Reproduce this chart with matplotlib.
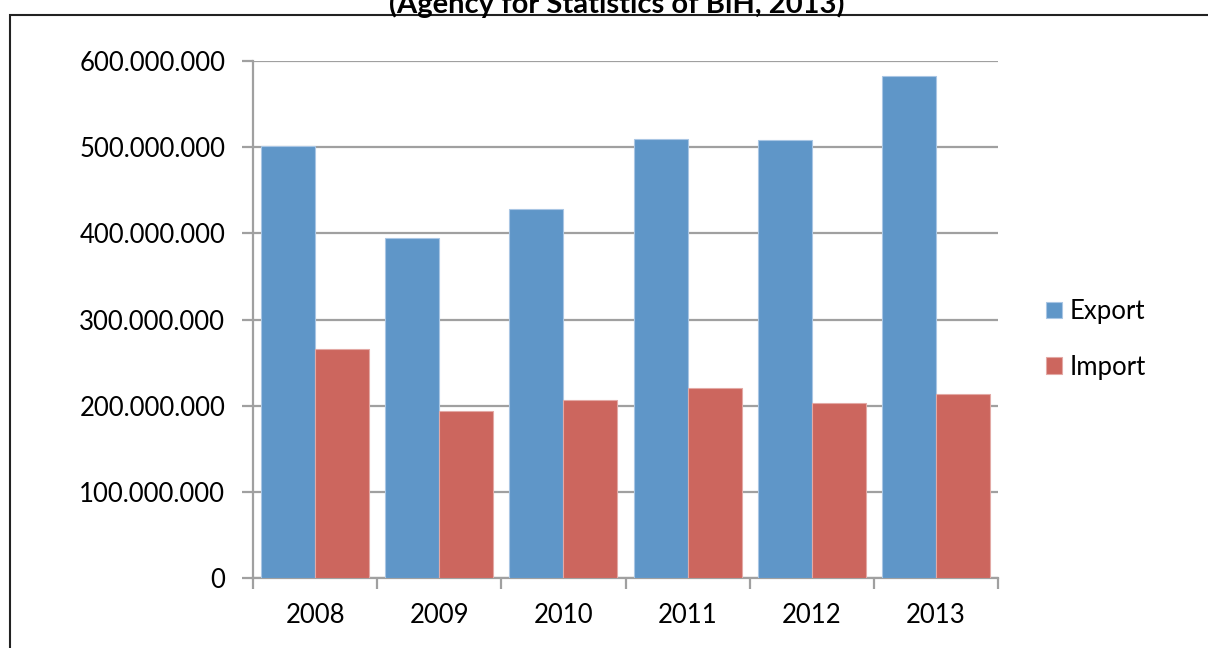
import matplotlib
matplotlib.use("Agg")
import matplotlib.pyplot as plt
import numpy as np
from matplotlib.ticker import FuncFormatter, MultipleLocator
from matplotlib.patches import Rectangle

years = ["2008", "2009", "2010", "2011", "2012", "2013"]
export_values = [501e6, 395e6, 428e6, 510e6, 508e6, 583e6]
import_values = [265.5e6, 193.5e6, 206e6, 221e6, 203e6, 214e6]

plt.rcParams["font.family"] = ["Lato", "DejaVu Sans"]

fig = plt.figure(figsize=(12.08, 6.48), dpi=100)
ax = fig.add_axes([253 / 1208, 1 - 578 / 648, 745 / 1208, 517 / 648])

x = np.arange(len(years))
w = 0.435
ax.bar(x - w / 2, export_values, w, color="#5F96C8", edgecolor="#A9C6E4", linewidth=0.8,
       label="Export", zorder=3)
ax.bar(x + w / 2, import_values, w, color="#CC665E", edgecolor="#E3A9A5", linewidth=0.8,
       label="Import", zorder=3)

ax.set_xlim(-0.5, len(years) - 0.5)
ax.set_ylim(0, 600e6)
ax.yaxis.set_major_locator(MultipleLocator(100e6))
ax.yaxis.set_major_formatter(FuncFormatter(lambda v, p: f"{int(v):,}".replace(",", ".")))
ax.grid(axis="y", color="#A0A0A0", linewidth=1.6, zorder=0)

ax.set_xticks(np.arange(-0.5, len(years), 1.0))
ax.set_xticklabels([])
ax.set_xticks(x, minor=True)
ax.set_xticklabels(years, minor=True)
ax.tick_params(axis="x", which="minor", length=0, pad=18, labelsize=18.5)
ax.tick_params(axis="x", which="major", length=8, width=1.6, color="#A0A0A0", direction="out")
ax.tick_params(axis="y", length=8, width=1.6, color="#A0A0A0", direction="out", pad=12, labelsize=18.5)

for s in ["top", "right"]:
    ax.spines[s].set_visible(False)
for s in ["left", "bottom"]:
    ax.spines[s].set_color("#A0A0A0")
    ax.spines[s].set_linewidth(1.6)

ax.legend(loc="center left", bbox_to_anchor=(1.034, 0.462), frameon=False, fontsize=18.5,
          handlelength=0.6, handleheight=0.6, handletextpad=0.3, labelspacing=1.2)

# outer chart border
fig.patches.append(Rectangle((10 / 1208, -0.1), 1.2, 1 - 15 / 648 + 0.1, transform=fig.transFigure,
                             fill=False, edgecolor="#222222", linewidth=1.5))

fig.text(617 / 1208, 1 - 4 / 648, "(Agency for Statistics of BiH, 2013)", ha="center", va="center",
         fontsize=21, fontweight="bold")

fig.savefig("out.png", dpi=100)
